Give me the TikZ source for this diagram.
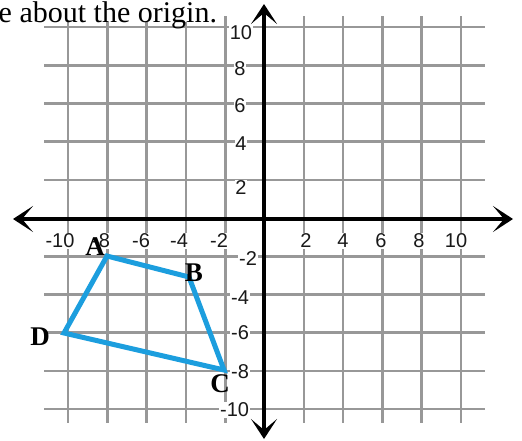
\documentclass[tikz,border=0pt]{standalone}
\usepackage{fontspec}
\setmainfont{Liberation Serif}
\newfontfamily\labfont{Liberation Sans}
\usetikzlibrary{arrows.meta}
\definecolor{gridgray}{RGB}{152,152,152}
\definecolor{polyblue}{RGB}{28,158,222}
\begin{document}
\begin{tikzpicture}[x=1pt,y=-1pt,
  gridline/.style={draw=gridgray,line width=2.6pt},
  axisline/.style={draw=black,line width=3.8pt,{Stealth[length=20pt,width=26pt,inset=11pt]}-{Stealth[length=20pt,width=26pt,inset=11pt]}},
  ticklab/.style={font=\labfont\fontsize{20}{21}\selectfont, text=black!90, fill=white, inner sep=0.8pt},
  vlab/.style={font=\bfseries\fontsize{27}{28}\selectfont, inner sep=0pt},
  poly/.style={draw=polyblue,line width=5pt},
  titlestyle/.style={font=\fontsize{30}{32}\selectfont, anchor=base west, inner sep=0pt, fill=white, text depth=0pt}]
\useasboundingbox (0,0) rectangle (522,440);
% grid
\foreach \i in {0,...,10}{
  \draw[gridline] ({68+39.3*\i},16) -- ({68+39.3*\i},423);
  \draw[gridline] (44,{27+38.2*\i}) -- (485,{27+38.2*\i});
}
% title
\node[titlestyle] (title) at (-1.5,22) {e about the origin.};
% x tick labels
\node[ticklab] (xm10) at (60,241) {-10};
\node[ticklab] (xm8) at (101,241) {-8};
\node[ticklab] (xm6) at (141,241) {-6};
\node[ticklab] (xm4) at (179,241) {-4};
\node[ticklab] (xm2) at (219,241) {-2};
\node[ticklab] (xp2) at (306,241) {2};
\node[ticklab] (xp4) at (343,241) {4};
\node[ticklab] (xp6) at (381,241) {6};
\node[ticklab] (xp8) at (419,241) {8};
\node[ticklab] (xp10) at (456,241) {10};
% y tick labels
\node[ticklab] (yp10) at (241,33) {10};
\node[ticklab] (yp8) at (240,69) {8};
\node[ticklab] (yp6) at (240,106) {6};
\node[ticklab] (yp4) at (241,144) {4};
\node[ticklab] (yp2) at (241,188) {2};
\node[ticklab,anchor=east] (ym2) at (258,259) {-2};
\node[ticklab,anchor=east] (ym4) at (250,298) {-4};
\node[ticklab,anchor=east] (ym6) at (250,333) {-6};
\node[ticklab,anchor=east] (ym8) at (250,372) {-8};
\node[ticklab,anchor=east] (ym10) at (250,410) {-10};
% axes
\coordinate (xl) at (13,219);
\coordinate (xr) at (513,219);
\coordinate (yt) at (264,4);
\coordinate (yb) at (264,439);
\draw[axisline] (xl) -- (xr);
\draw[axisline] (yb) -- (yt);
% quadrilateral
\coordinate (A) at (107,256);
\coordinate (B) at (189,277);
\coordinate (C) at (224,370);
\coordinate (D) at (64,333);
\draw[poly] (A) -- (B) -- (C) -- (D) -- cycle;
% vertex labels
\node[vlab] (lA) at (95,247) {A};
\node[vlab] (lB) at (194,273) {B};
\node[vlab] (lC) at (220,384) {C};
\node[vlab] (lD) at (40,337) {D};
\end{tikzpicture}
\end{document}
